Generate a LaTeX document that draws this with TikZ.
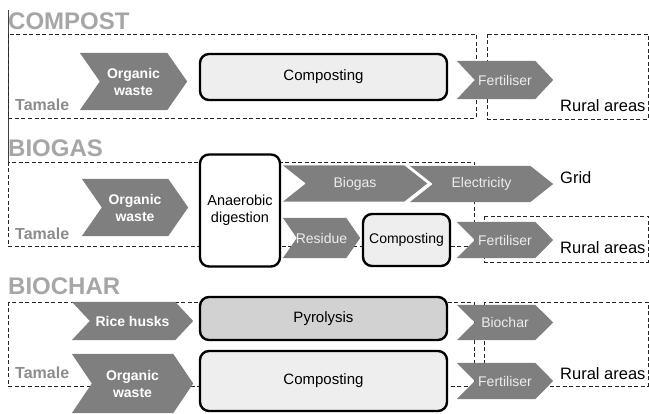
\documentclass[tikz,border=0pt]{standalone}
\usepackage{fontspec}
\setmainfont{Liberation Sans}
\usetikzlibrary{backgrounds}
\definecolor{chevgray}{HTML}{7F7F7F}
\definecolor{titlegray}{HTML}{A6A6A6}
\definecolor{tamalegray}{HTML}{8C8C8C}
\definecolor{lightbox}{HTML}{EEEEEE}
\definecolor{pyrobox}{HTML}{D2D2D2}
\definecolor{chevtxt}{HTML}{EDEDED}
\tikzset{
 chev/.style={rectangle, inner sep=0pt, align=center},
 chevb/.style={chev, font=\fontsize{14}{17}\selectfont\bfseries, text=white},
 chevr/.style={chev, font=\fontsize{14}{17}\selectfont, text=chevtxt},
 procbox/.style={draw=black, line width=2.4pt, rounded corners=9pt, inner sep=0pt, align=center, font=\fontsize{15}{17}\selectfont},
 dashbox/.style={draw=black!85, line width=0.9pt, dash pattern=on 4pt off 2.5pt},
 sectitle/.style={anchor=base west, inner sep=0pt, text=titlegray, font=\fontsize{24}{24}\selectfont\bfseries},
 tamale/.style={anchor=base west, inner sep=0pt, text=tamalegray, font=\fontsize{16}{16}\selectfont\bfseries},
 place/.style={anchor=base west, inner sep=0pt, font=\fontsize{16.5}{16}\selectfont},
}
\newcommand\chevshape[2]{\fill[chevgray] (#1.north west) -- ([xshift=-#2pt]#1.north east) -- (#1.east) -- ([xshift=-#2pt]#1.south east) -- (#1.south west) -- ([xshift=#2pt]#1.west) -- cycle;}
\begin{document}
\begin{tikzpicture}[x=1pt,y=-1pt]
\useasboundingbox (0,0) rectangle (649,414);
% ---------- COMPOST ----------
\node[sectitle] (t1) at (8,30) {COMPOST};
\node[tamale] (tam1) at (15,111) {Tamale};
\node[place] (rur1) at (560,112) {Rural areas};
\node[chevb, minimum width=107pt, minimum height=57pt] (ow1) at (133.5,81.5) {Organic\\waste};
\node[procbox, fill=lightbox, minimum width=247pt, minimum height=46pt] (comp1) at (323.5,77) {Composting};
\node[chevr, minimum width=96pt, minimum height=38pt] (fert1) at (505,80) {Fertiliser};
% ---------- BIOGAS ----------
\node[sectitle] (t2) at (8,157) {BIOGAS};
\node[tamale] (tam2) at (15,240) {Tamale};
\node[place] (rur2) at (560,254) {Rural areas};
\node[place] (grid) at (560,184) {Grid};
\node[chevb, minimum width=106pt, minimum height=57pt] (ow2) at (135,207.5) {Organic\\waste};
\node[procbox, fill=white, minimum width=80pt, minimum height=112pt, font=\fontsize{14.5}{17}\selectfont] (ad) at (240,210.5) {Anaerobic\\digestion};
\node[chevr, minimum width=144pt, minimum height=36pt] (bgas) at (355,183.5) {Biogas};
\node[chevr, minimum width=143pt, minimum height=36pt] (elec) at (481.5,184) {Electricity};
\node[chevr, minimum width=77pt, minimum height=40pt] (res) at (321.5,238) {Residue};
\node[procbox, fill=lightbox, minimum width=87pt, minimum height=52pt, font=\fontsize{14}{17}\selectfont] (comp2) at (406.5,240) {Composting};
\node[chevr, minimum width=96pt, minimum height=36pt] (fert2) at (505,240) {Fertiliser};
% ---------- BIOCHAR ----------
\node[sectitle] (t3) at (8,295) {BIOCHAR};
\node[tamale] (tam3) at (15,379) {Tamale};
\node[place] (rur3) at (560,380) {Rural areas};
\node[chevb, minimum width=121pt, minimum height=38pt] (rice) at (132.5,321) {Rice husks};
\node[chevb, minimum width=121pt, minimum height=59pt] (ow3) at (132.5,383.5) {Organic\\waste};
\node[procbox, fill=pyrobox, minimum width=247pt, minimum height=43pt] (pyro) at (323.5,318.5) {Pyrolysis};
\node[procbox, fill=lightbox, minimum width=247pt, minimum height=60pt] (comp3) at (323.5,381) {Composting};
\node[chevr, minimum width=96pt, minimum height=35pt] (bchar) at (505,322.5) {Biochar};
\node[chevr, minimum width=96pt, minimum height=36pt] (fert3) at (505,381) {Fertiliser};
% ---------- background ----------
\begin{scope}[on background layer]
 \draw[line width=0.8pt, black!75] (8,10) -- (8,165);
 \draw[dashbox] (8,34) rectangle (476,118);
 \draw[dashbox] (487,34) rectangle (648,119);
 \draw[dashbox] (8,162) rectangle (474,246);
 \draw[dashbox] (484,216) rectangle (648,262);
 \draw[dashbox] (8,302) rectangle (474,386);
 \draw[dashbox] (484,302) rectangle (648,386);
 \chevshape{ow1}{20}
 \chevshape{fert1}{18}
 \chevshape{ow2}{20}
 \chevshape{bgas}{23}
 \chevshape{elec}{23}
 \chevshape{res}{14}
 \chevshape{fert2}{18}
 \chevshape{rice}{18}
 \chevshape{ow3}{20}
 \chevshape{bchar}{18}
 \chevshape{fert3}{18}
\end{scope}
\end{tikzpicture}
\end{document}
